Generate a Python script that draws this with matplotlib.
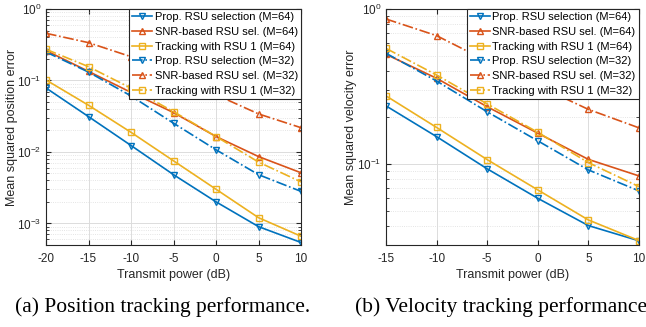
import matplotlib

matplotlib.use("Agg")
import matplotlib.pyplot as plt
from matplotlib.ticker import LogLocator, NullFormatter

plt.rcParams["font.family"] = ["Liberation Sans", "DejaVu Sans"]
plt.rcParams["axes.unicode_minus"] = False

BLUE = "#0072BD"
ORANGE = "#D95319"
YELLOW = "#EDB120"

# position tracking, power -20..10 dB
pos_power = [-20, -15, -10, -5, 0, 5, 10]
pos_prop_64 = [0.0785, 0.0312, 0.0123, 0.0048, 0.0020, 0.00090, 0.00054]
pos_snr_64 = [0.262, 0.134, 0.068, 0.0355, 0.0164, 0.0086, 0.0051]
pos_track_64 = [0.1016, 0.045, 0.0188, 0.0075, 0.0030, 0.0012, 0.00066]
pos_prop_32 = [0.25, 0.131, 0.0607, 0.0252, 0.0107, 0.0048, 0.0028]
pos_snr_32 = [0.457, 0.338, 0.215, 0.12, 0.063, 0.034, 0.0218]
pos_track_32 = [0.273, 0.156, 0.078, 0.0366, 0.0164, 0.0072, 0.0038]

# velocity tracking, power -15..10 dB
vel_power = [-15, -10, -5, 0, 5, 10]
vel_prop_64 = [0.237, 0.150, 0.093, 0.060, 0.040, 0.0319]
vel_snr_64 = [0.51, 0.357, 0.234, 0.158, 0.107, 0.0837]
vel_track_64 = [0.275, 0.172, 0.1066, 0.068, 0.0435, 0.032]
vel_prop_32 = [0.518, 0.343, 0.217, 0.141, 0.0915, 0.067]
vel_snr_32 = [0.862, 0.673, 0.46, 0.32, 0.225, 0.171]
vel_track_32 = [0.557, 0.375, 0.244, 0.16, 0.102, 0.0714]

labels = [
    "Prop. RSU selection (M=64)",
    "SNR-based RSU sel. (M=64)",
    "Tracking with RSU 1 (M=64)",
    "Prop. RSU selection (M=32)",
    "SNR-based RSU sel. (M=32)",
    "Tracking with RSU 1 (M=32)",
]
styles = [
    (BLUE, "v", "-"),
    (ORANGE, "^", "-"),
    (YELLOW, "s", "-"),
    (BLUE, "v", "-."),
    (ORANGE, "^", "-."),
    (YELLOW, "s", "-."),
]


def draw(ax, xs, series, xlim, ylim, yticks, ylabel, label_x):
    for ys, label, (color, marker, ls) in zip(series, labels, styles):
        ax.plot(xs, ys, color=color, linestyle=ls, linewidth=1.2, marker=marker,
                markersize=5, markerfacecolor="none", markeredgewidth=1.0, label=label)
    ax.set_yscale("log")
    ax.set_xlim(*xlim)
    ax.set_ylim(*ylim)
    ax.set_xticks(range(xlim[0], xlim[1] + 1, 5))
    ax.set_yticks(yticks)
    ax.yaxis.set_minor_locator(LogLocator(base=10, subs=range(2, 10)))
    ax.yaxis.set_minor_formatter(NullFormatter())
    ax.grid(True, which="major", color="#dcdcdc", linewidth=0.7)
    ax.grid(True, which="minor", axis="y", color="#dcdcdc", linewidth=0.6, linestyle=":")
    ax.set_axisbelow(True)
    ax.tick_params(which="both", direction="in", top=True, right=True, labelsize=8.5, colors="#262626")
    ax.tick_params(axis="x", pad=6)
    ax.tick_params(which="minor", length=2)
    for spine in ax.spines.values():
        spine.set_color("#262626")
        spine.set_linewidth(0.8)
    ax.set_xlabel("Transmit power (dB)", fontsize=9, color="#262626", labelpad=3)
    ax.set_ylabel(ylabel, fontsize=9, color="#262626", va="center")
    ax.yaxis.set_label_coords(label_x, 0.5)
    leg = ax.legend(loc="upper right", fontsize=8, handlelength=1.8, handletextpad=0.2,
                    borderpad=0.3, labelspacing=0.42, borderaxespad=0.0, fancybox=False)
    leg.get_frame().set_edgecolor("#262626")
    leg.get_frame().set_linewidth(0.8)
    leg.get_frame().set_alpha(1)


fig = plt.figure(figsize=(6.46, 3.27), dpi=100)
ax1 = fig.add_axes([0.0712, 0.251, 0.395, 0.7215])
ax2 = fig.add_axes([0.5975, 0.251, 0.3915, 0.7215])

draw(ax1, pos_power,
     [pos_prop_64, pos_snr_64, pos_track_64, pos_prop_32, pos_snr_32, pos_track_32],
     (-20, 10), (5e-4, 1), [1e-3, 1e-2, 1e-1, 1], "Mean squared position error", -0.133)
draw(ax2, vel_power,
     [vel_prop_64, vel_snr_64, vel_track_64, vel_prop_32, vel_snr_32, vel_track_32],
     (-15, 10), (0.03, 1), [1e-1, 1], "Mean squared velocity error", -0.138)

fig.text(15 / 646, 0.061, "(a) Position tracking performance.", fontsize=15.5,
         family=["Liberation Serif", "DejaVu Serif"], ha="left", va="center")
fig.text(355 / 646, 0.061, "(b) Velocity tracking performance.", fontsize=15.5,
         family=["Liberation Serif", "DejaVu Serif"], ha="left", va="center")

fig.savefig("out.png", dpi=100)
